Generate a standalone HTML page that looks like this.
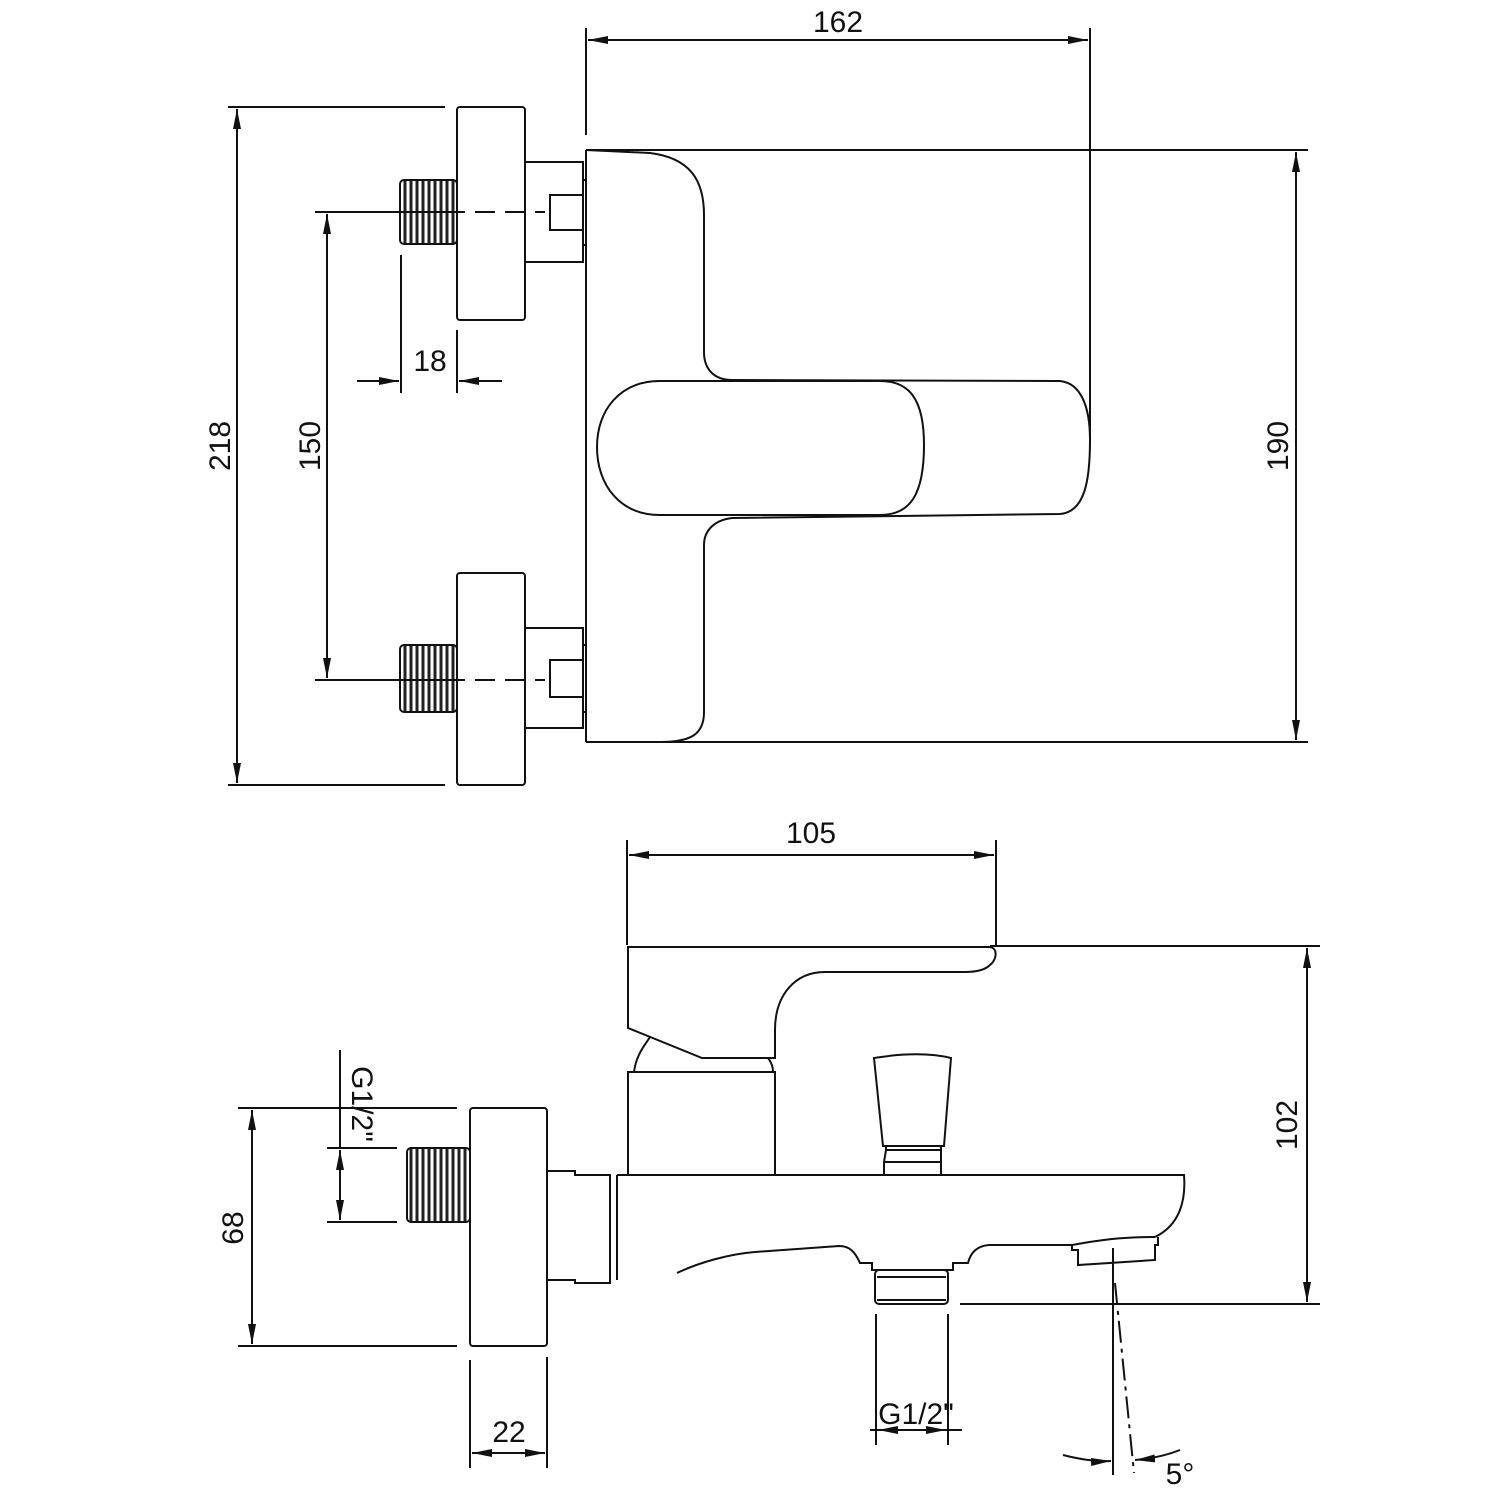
<!DOCTYPE html>
<html><head><meta charset="utf-8"><style>
html,body{margin:0;padding:0;background:#fff}
svg{display:block}
text{font-family:"Liberation Sans",sans-serif;font-size:30px;fill:#111}
</style></head><body>
<svg width="1500" height="1500" viewBox="0 0 1500 1500" xmlns="http://www.w3.org/2000/svg">
<defs>
<marker id="a" viewBox="0 0 20 8" refX="20" refY="4" markerWidth="20" markerHeight="8" markerUnits="userSpaceOnUse" orient="auto-start-reverse"><path d="M0,0 L20,4 L0,8 z" fill="#111"/></marker>
<pattern id="th" width="6" height="10" patternUnits="userSpaceOnUse"><rect width="6" height="10" fill="#fff"/><line x1="3" y1="0" x2="3" y2="10" stroke="#222" stroke-width="3"/></pattern>
</defs>
<g fill="none" stroke="#111" stroke-width="2">
<!-- TOP VIEW -->
<!-- dim 162 -->
<line x1="586" y1="28" x2="586" y2="135"/>
<line x1="1090" y1="28" x2="1090" y2="440"/>
<line x1="588" y1="40" x2="1088" y2="40" marker-start="url(#a)" marker-end="url(#a)"/>
<!-- dim 190 -->
<line x1="586" y1="150" x2="1308" y2="150"/>
<line x1="586" y1="742" x2="1308" y2="742"/>
<line x1="1296" y1="152" x2="1296" y2="740" marker-start="url(#a)" marker-end="url(#a)"/>
<!-- body -->
<line x1="586" y1="150" x2="586" y2="742"/>
<path d="M586,150 L650,153 C690,158 704,180 704,215 L704,352 C704,370 715,380 732,380 L1060,381 C1080,383 1090,405 1090,440 C1090,480 1085,512 1060,514 L732,518 C715,520 704,530 704,545 L704,712 C704,735 690,742 660,742 L586,742"/>
<path d="M924,445 C924,400 910,381 880,381 L660,381 C620,381 597,410 597,447 C597,485 620,515 660,515 L880,515 C910,515 924,495 924,445 Z"/>
<!-- flanges -->
<rect x="457" y="107" width="68" height="213" rx="3"/>
<rect x="457" y="573" width="68" height="212" rx="3"/>
<rect x="525" y="162" width="58" height="100"/>
<rect x="550" y="195" width="33" height="35"/>
<line x1="583" y1="180" x2="586" y2="180"/><line x1="583" y1="245" x2="586" y2="245"/>
<rect x="525" y="628" width="58" height="100"/>
<rect x="550" y="660" width="33" height="37"/>
<line x1="583" y1="645" x2="586" y2="645"/><line x1="583" y1="712" x2="586" y2="712"/>
<rect x="400" y="180" width="57" height="64" rx="4" fill="url(#th)"/>
<rect x="400" y="645" width="57" height="67" rx="4" fill="url(#th)"/>
<!-- centerlines -->
<line x1="315" y1="212" x2="545" y2="212" stroke-dasharray="150,10,20,10,20,10,20" />
<line x1="315" y1="680" x2="545" y2="680" stroke-dasharray="150,10,20,10,20,10,20"/>
<!-- dim 150 -->
<line x1="327" y1="214" x2="327" y2="678" marker-start="url(#a)" marker-end="url(#a)"/>
<!-- dim 218 -->
<line x1="228" y1="107" x2="445" y2="107"/>
<line x1="228" y1="785" x2="445" y2="785"/>
<line x1="237" y1="109" x2="237" y2="783" marker-start="url(#a)" marker-end="url(#a)"/>
<!-- dim 18 -->
<line x1="401" y1="255" x2="401" y2="393"/>
<line x1="457" y1="330" x2="457" y2="393"/>
<line x1="357" y1="381" x2="399" y2="381" marker-end="url(#a)"/>
<line x1="502" y1="381" x2="459" y2="381" marker-end="url(#a)"/>

<!-- BOTTOM VIEW -->
<line x1="627" y1="840" x2="627" y2="945"/>
<line x1="996" y1="840" x2="996" y2="945"/>
<line x1="629" y1="855" x2="994" y2="855" marker-start="url(#a)" marker-end="url(#a)"/>
<line x1="990" y1="946" x2="1320" y2="946"/>
<line x1="960" y1="1304" x2="1320" y2="1304"/>
<line x1="1307" y1="948" x2="1307" y2="1302" marker-start="url(#a)" marker-end="url(#a)"/>
<!-- lever -->
<path d="M628,947 L990,947 C998,948 997,960 990,965 C985,970 975,972 965,972 L825,972 C795,972 775,995 775,1030 L775,1058 L702,1058 L628,1028 Z"/>
<path d="M634,1072 C636,1055 645,1045 650,1037"/>
<path d="M768,1058 C772,1063 773,1068 773,1072"/>
<rect x="628" y="1072" width="147" height="103"/>
<!-- knob -->
<path d="M874,1058 C905,1053 930,1053 951,1058 L944,1146 L883,1146 Z"/>
<path d="M886,1146 L886,1150 L941,1150 L941,1146 M886,1150 L884,1162 L941,1162 L941,1150 M884,1162 L884,1175 M941,1162 L941,1175"/>
<!-- spout -->
<path d="M617,1175 L1184,1175 C1186,1200 1180,1225 1155,1237"/>
<path d="M1155,1237 C1120,1237 1100,1240 1072,1245 L1072,1250 L1078,1250 L1078,1265 L1155,1260 L1155,1245 L1158,1245 L1158,1237"/>
<path d="M1072,1245 L989,1245 C975,1246 970,1255 968,1263 L953,1263 L953,1270 L872,1270 L872,1263 L860,1263 C855,1252 850,1246 839,1246 L755,1252 C730,1254 700,1262 677,1273"/>
<line x1="617" y1="1175" x2="617" y2="1280"/>
<rect x="875" y="1270" width="73" height="34" rx="4"/>
<line x1="877" y1="1277" x2="946" y2="1277"/>
<line x1="877" y1="1300" x2="946" y2="1300"/>
<!-- left connector -->
<rect x="470" y="1108" width="77" height="238" rx="3"/>
<path d="M547,1171 L575,1171 L575,1175 L610,1175 L610,1283 L575,1283 L575,1280 L547,1280"/>
<line x1="617" y1="1175" x2="617" y2="1280"/>
<rect x="407" y="1148" width="63" height="74" rx="4" fill="url(#th)"/>
<!-- dim 68 -->
<line x1="238" y1="1108" x2="457" y2="1108"/>
<line x1="238" y1="1346" x2="457" y2="1346"/>
<line x1="252" y1="1110" x2="252" y2="1344" marker-start="url(#a)" marker-end="url(#a)"/>
<!-- G1/2 left -->
<line x1="340" y1="1050" x2="340" y2="1148"/>
<line x1="327" y1="1148" x2="397" y2="1148"/>
<line x1="327" y1="1222" x2="397" y2="1222"/>
<line x1="340" y1="1150" x2="340" y2="1220" marker-start="url(#a)" marker-end="url(#a)"/>
<!-- dim 22 -->
<line x1="470" y1="1360" x2="470" y2="1468"/>
<line x1="547" y1="1357" x2="547" y2="1468"/>
<line x1="472" y1="1453" x2="545" y2="1453" marker-start="url(#a)" marker-end="url(#a)"/>
<!-- G1/2 bottom -->
<line x1="876" y1="1314" x2="876" y2="1445"/>
<line x1="948" y1="1314" x2="948" y2="1445"/>
<line x1="870" y1="1430" x2="962" y2="1430"/>
<line x1="878" y1="1430" x2="910" y2="1430" marker-start="url(#a)"/>
<line x1="915" y1="1430" x2="946" y2="1430" marker-end="url(#a)"/>
<!-- 5 deg -->
<line x1="1113" y1="1248" x2="1113" y2="1475"/>
<line x1="1115" y1="1283" x2="1134" y2="1473" stroke-dasharray="22,6,4,6"/>
<path d="M1063,1455 Q1090,1462 1111,1461" marker-end="url(#a)"/>
<path d="M1180,1450 Q1160,1458 1135,1460" marker-end="url(#a)"/>
</g>
<text x="838" y="32" text-anchor="middle">162</text>
<text x="430" y="371" text-anchor="middle">18</text>
<text transform="translate(230,446) rotate(-90)" text-anchor="middle">218</text>
<text transform="translate(320,446) rotate(-90)" text-anchor="middle">150</text>
<text transform="translate(1288,446) rotate(-90)" text-anchor="middle">190</text>
<text x="811" y="843" text-anchor="middle">105</text>
<text transform="translate(1297,1125) rotate(-90)" text-anchor="middle">102</text>
<text transform="translate(243,1228) rotate(-90)" text-anchor="middle">68</text>
<text transform="translate(352,1104) rotate(90)" text-anchor="middle">G1/2"</text>
<text x="509" y="1442" text-anchor="middle">22</text>
<text x="916" y="1424" text-anchor="middle">G1/2"</text>
<text x="1180" y="1484" text-anchor="middle">5°</text>
</svg>
</body></html>
